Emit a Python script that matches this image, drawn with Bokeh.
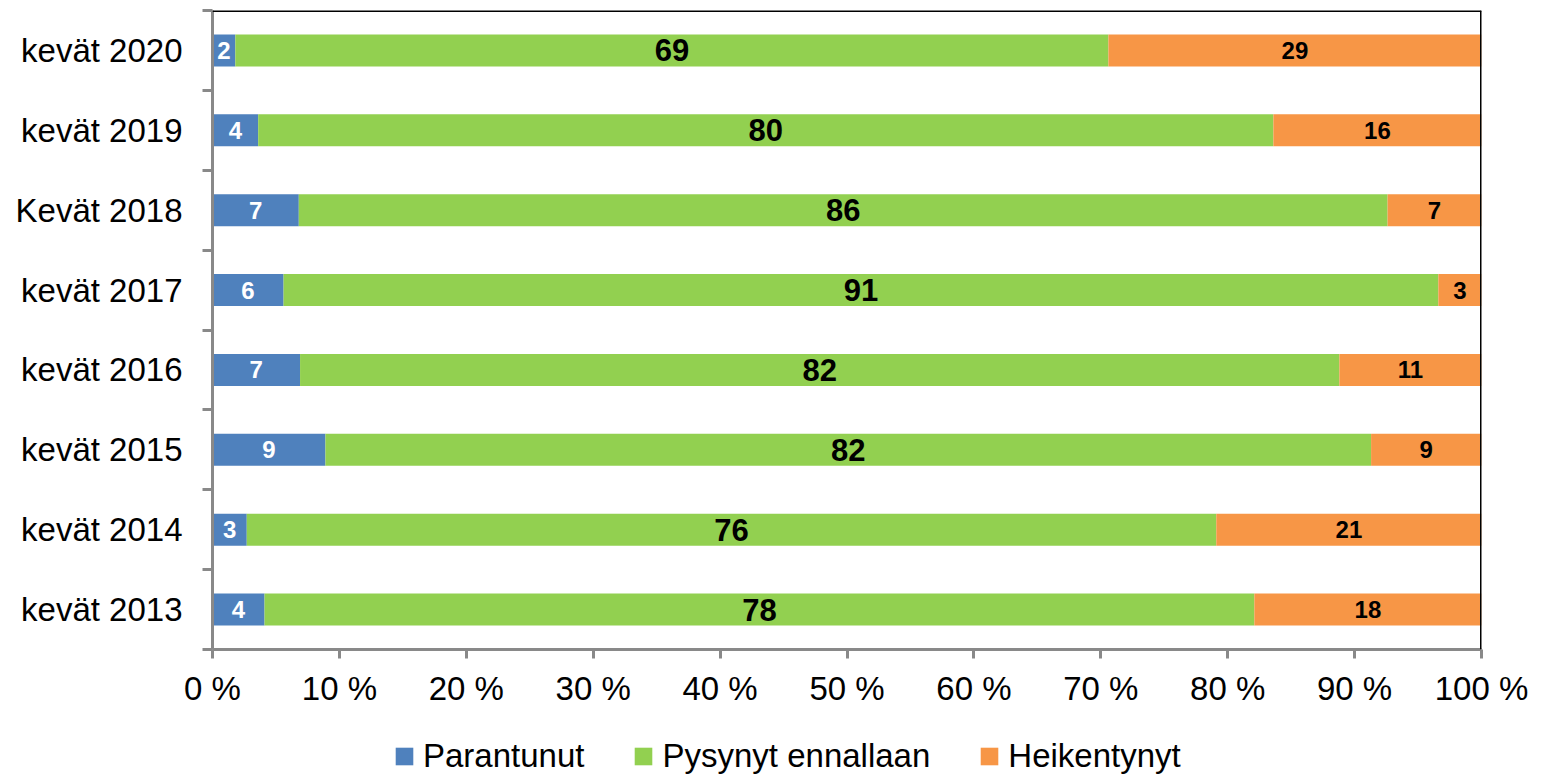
from bokeh.plotting import figure
from bokeh.layouts import column
from bokeh.models import (ColumnDataSource, Range1d, FixedTicker, Span, Legend, LegendItem)
from bokeh.embed import file_html
from bokeh.resources import INLINE
from bokeh.core.properties import value

# ---- data (bottom to top) ----
categories = ["kevät 2013", "kevät 2014", "kevät 2015", "kevät 2016",
              "kevät 2017", "Kevät 2018", "kevät 2019", "kevät 2020"]
parantunut = [4.1, 2.7, 8.9, 6.9, 5.6, 6.8, 3.6, 1.8]
pysynyt = [78.0, 76.4, 82.4, 81.9, 91.0, 85.8, 80.0, 68.8]
heikentynyt = [17.9, 20.9, 8.7, 11.2, 3.4, 7.4, 16.4, 29.4]
series_names = ["Parantunut", "Pysynyt ennallaan", "Heikentynyt"]
x_ticks = [0, 10, 20, 30, 40, 50, 60, 70, 80, 90, 100]
x_tick_labels = [f"{t} %" for t in x_ticks]

BLUE = "#4F81BD"
GREEN = "#92D050"
ORANGE = "#F79646"
COLORS = [BLUE, GREEN, ORANGE]
AXIS_GRAY = "#898989"
FONT = "Liberation Sans"

n = len(categories)
ypos = [i + 0.5 for i in range(n)]
b_end = parantunut
g_end = [a + b for a, b in zip(parantunut, pysynyt)]
o_end = [a + b for a, b in zip(g_end, heikentynyt)]

src = ColumnDataSource(dict(
    y=ypos,
    b0=[0] * n, b1=b_end,
    g0=b_end, g1=g_end,
    o0=g_end, o1=o_end,
    bx=[v / 2 for v in b_end],
    gx=[(a + b) / 2 for a, b in zip(b_end, g_end)],
    ox=[(a + b) / 2 for a, b in zip(g_end, o_end)],
    bl=[str(int(v + 0.5)) for v in parantunut],
    gl=[str(int(v + 0.5)) for v in pysynyt],
    ol=[str(int(v + 0.5)) for v in heikentynyt],
))

MAIN_H = 730
p = figure(width=1530, height=MAIN_H, output_backend="svg", toolbar_location=None,
           x_range=Range1d(0, 100), y_range=Range1d(0, n),
           min_border_left=212, min_border_right=49, min_border_top=10,
           min_border_bottom=MAIN_H - 649)
p.background_fill_color = "white"
p.border_fill_color = "white"
p.outline_line_color = None
p.xgrid.visible = False
p.ygrid.visible = False

h = 0.4
p.hbar(y="y", left="b0", right="b1", height=h, color=BLUE, line_color=None, source=src)
p.hbar(y="y", left="g0", right="g1", height=h, color=GREEN, line_color=None, source=src)
p.hbar(y="y", left="o0", right="o1", height=h, color=ORANGE, line_color=None, source=src)

p.text(x="bx", y="y", text="bl", source=src, text_align="center", text_baseline="middle",
       text_font=value(FONT), text_font_size="24px", text_font_style="bold", text_color="white")
p.text(x="gx", y="y", text="gl", source=src, text_align="center", text_baseline="middle",
       text_font=value(FONT), text_font_size="31px", text_font_style="bold", text_color="black")
p.text(x="ox", y="y", text="ol", source=src, text_align="center", text_baseline="middle",
       text_font=value(FONT), text_font_size="24px", text_font_style="bold", text_color="black")

# x axis
xa = p.xaxis[0]
xa.ticker = FixedTicker(ticks=x_ticks, minor_ticks=[])
xa.major_label_overrides = {t: l for t, l in zip(x_ticks, x_tick_labels)}
xa.axis_line_color = AXIS_GRAY
xa.axis_line_width = 3
xa.major_tick_line_color = AXIS_GRAY
xa.major_tick_line_width = 3
xa.major_tick_out = 9
xa.major_tick_in = 0
xa.minor_tick_line_color = None
xa.major_label_text_font = FONT
xa.major_label_text_font_size = "33px"
xa.major_label_text_color = "black"
xa.major_label_standoff = 11

# y axis
ya = p.yaxis[0]
ya.ticker = FixedTicker(ticks=ypos, minor_ticks=list(range(n + 1)))
ya.major_label_overrides = {y: c for y, c in zip(ypos, categories)}
ya.axis_line_color = AXIS_GRAY
ya.axis_line_width = 3
ya.major_tick_line_color = None
ya.major_tick_out = 0
ya.major_tick_in = 0
ya.minor_tick_line_color = AXIS_GRAY
ya.minor_tick_line_width = 3
ya.minor_tick_out = 10
ya.minor_tick_in = 0
ya.major_label_text_font = FONT
ya.major_label_text_font_size = "33px"
ya.major_label_text_color = "black"
ya.major_label_standoff = 20

# top and right frame lines
p.add_layout(Span(location=n, dimension="width", line_color="black", line_width=3))
p.add_layout(Span(location=100, dimension="height", line_color="black", line_width=3))

# ---- legend strip (separate figure so the legend isn't clipped by the plot frame) ----
LEG_H = 45
lg = figure(width=1530, height=LEG_H, output_backend="svg", toolbar_location=None,
            x_range=Range1d(0, 1), y_range=Range1d(0, 1),
            min_border_left=212, min_border_right=49, min_border_top=0, min_border_bottom=0)
lg.axis.visible = False
lg.grid.visible = False
lg.outline_line_color = None
lg.background_fill_color = "white"
lg.border_fill_color = "white"
items = []
for name, col in zip(series_names, COLORS):
    # off-range swatch: only its legend glyph is seen
    r = lg.quad(left=[-3], right=[-2], bottom=[-3], top=[-2], color=col, line_color=None)
    items.append(LegendItem(label=name, renderers=[r]))
legend = Legend(items=items, orientation="horizontal", location=(181, 0),
                glyph_width=22, glyph_height=22, label_standoff=8, spacing=48,
                padding=0, margin=0, border_line_color=None, background_fill_alpha=0,
                label_text_font=FONT, label_text_font_size="33px", label_text_color="black")
lg.add_layout(legend, "center")

open("out.html", "w").write(file_html(column(p, lg, spacing=0), INLINE))
